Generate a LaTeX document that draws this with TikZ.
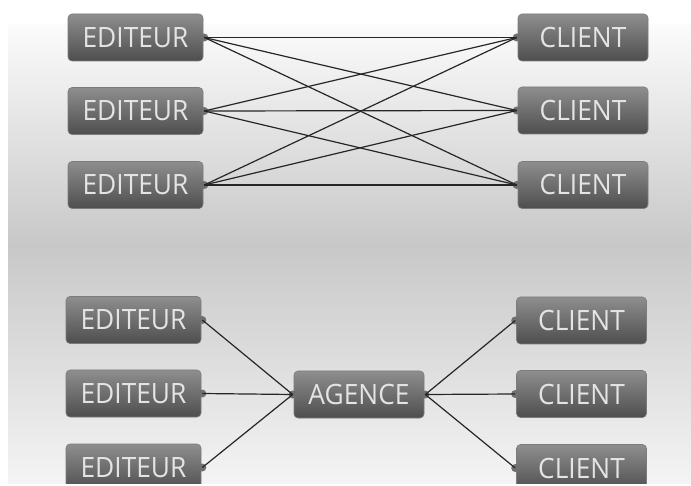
\documentclass[tikz,border=0pt]{standalone}
\usepackage{fontspec}
\setmainfont{Open Sans}[FakeStretch=0.94]
\usetikzlibrary{calc}
\definecolor{bgmid}{HTML}{C8C8C8}
\definecolor{bgtop}{HTML}{FBFBFB}
\definecolor{bgbot}{HTML}{F4F4F4}
\definecolor{boxtop}{HTML}{8E8E8E}
\definecolor{boxbot}{HTML}{4E4E4E}
\definecolor{boxedge}{HTML}{7C7C7C}
\definecolor{dotcol}{HTML}{707070}
\definecolor{txtcol}{HTML}{E4E4E4}
\definecolor{linecol}{HTML}{262626}
\tikzset{
  box/.style={rounded corners=4pt, top color=boxtop, bottom color=boxbot,
    draw=boxedge, line width=0.6pt, minimum height=47pt, inner sep=0pt,
    text=txtcol, font=\fontsize{28}{28}\selectfont},
  ebox/.style={box, minimum width=135pt},
  cbox/.style={box, minimum width=130pt},
  dotnode/.style={circle, fill=dotcol, inner sep=0pt, minimum size=8pt},
  link/.style={draw=linecol, line width=1.2pt}
}
\begin{document}
\begin{tikzpicture}[x=1pt,y=-1pt]
\useasboundingbox (0,0) rectangle (691,486);
\fill[white] (0,0) rectangle (691,486);
\shade[top color=bgtop, bottom color=bgmid] (8,25) rectangle (691,245);
\shade[top color=bgmid, bottom color=bgbot] (8,245) rectangle (691,484);

% top group
\node[ebox] (e1) at (135.5,37.5) {EDITEUR};
\node[ebox] (e2) at (135.5,111) {EDITEUR};
\node[ebox] (e3) at (135.5,185) {EDITEUR};
\node[cbox] (c1) at (583,37.5) {CLIENT};
\node[cbox] (c2) at (583,110.5) {CLIENT};
\node[cbox] (c3) at (583,185) {CLIENT};
\foreach \n in {e1,e2,e3} { \node[dotnode] (\n d) at ($(\n.east)+(1,0)$) {}; }
\foreach \n in {c1,c2,c3} { \node[dotnode] (\n d) at ($(\n.west)+(-1,0)$) {}; }
\foreach \a in {e1,e2,e3} { \foreach \b in {c1,c2,c3} { \draw[link] (\a d.center) -- (\b d.center); } }

% bottom group
\node[ebox] (f1) at (133.5,320) {EDITEUR};
\node[ebox] (f2) at (133.5,393.5) {EDITEUR};
\node[ebox] (f3) at (133.5,467.5) {EDITEUR};
\node[cbox] (g1) at (581.5,320.5) {CLIENT};
\node[cbox] (g2) at (581.5,394) {CLIENT};
\node[cbox] (g3) at (581.5,468) {CLIENT};
\node[cbox] (ag) at (359,394.5) {AGENCE};
\foreach \n in {f1,f2,f3} { \node[dotnode] (\n d) at ($(\n.east)+(1,0)$) {}; }
\foreach \n in {g1,g2,g3} { \node[dotnode] (\n d) at ($(\n.west)+(-1,0)$) {}; }
\node[dotnode] (agl) at ($(ag.west)+(-1,0)$) {};
\node[dotnode] (agr) at ($(ag.east)+(1,0)$) {};
\foreach \n in {f1,f2,f3} { \draw[link] (\n d.center) -- (agl.center); }
\foreach \n in {g1,g2,g3} { \draw[link] (agr.center) -- (\n d.center); }

% white strip at the bottom edge
\fill[white] (0,484) rectangle (691,486);
\end{tikzpicture}
\end{document}
